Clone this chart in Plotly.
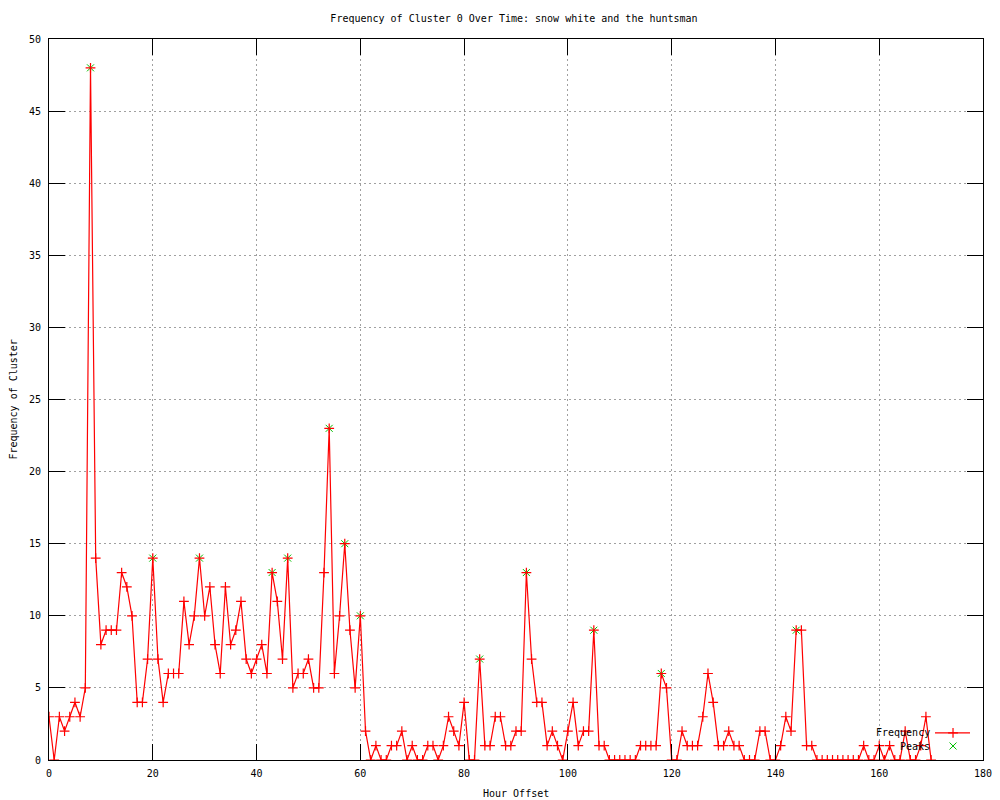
import plotly.graph_objects as go

# ---------------- data ----------------
hours = list(range(0, 171))
frequency = [
    3, 0, 3, 2, 3, 4, 3, 5, 48, 14,        # 0-9
    8, 9, 9, 9, 13, 12, 10, 4, 4, 7,       # 10-19
    14, 7, 4, 6, 6, 6, 11, 8, 10, 14,      # 20-29
    10, 12, 8, 6, 12, 8, 9, 11, 7, 6,      # 30-39
    7, 8, 6, 13, 11, 7, 14, 5, 6, 6,       # 40-49
    7, 5, 5, 13, 23, 6, 10, 15, 9, 5,      # 50-59
    10, 2, 0, 1, 0, 0, 1, 1, 2, 0,         # 60-69
    1, 0, 0, 1, 1, 0, 1, 3, 2, 1,          # 70-79
    4, 0, 0, 7, 1, 1, 3, 3, 1, 1,          # 80-89
    2, 2, 13, 7, 4, 4, 1, 2, 1, 0,         # 90-99
    2, 4, 1, 2, 2, 9, 1, 1, 0, 0,          # 100-109
    0, 0, 0, 0, 1, 1, 1, 1, 6, 5,          # 110-119
    0, 0, 2, 1, 1, 1, 3, 6, 4, 1,          # 120-129
    1, 2, 1, 1, 0, 0, 0, 2, 2, 0,          # 130-139
    0, 1, 3, 2, 9, 9, 1, 1, 0, 0,          # 140-149
    0, 0, 0, 0, 0, 0, 0, 1, 0, 0,          # 150-159
    1, 0, 1, 0, 0, 2, 0, 0, 1, 3,          # 160-169
    0,                                     # 170
]
peak_hours = [8, 20, 29, 43, 46, 54, 57, 60, 83, 92, 105, 118, 144]
peak_values = [48, 14, 14, 13, 14, 23, 15, 10, 7, 13, 9, 6, 9]

chart_title = "Frequency of Cluster 0 Over Time: snow white and the huntsman"
x_label = "Hour Offset"
y_label = "Frequency of Cluster"
series_names = ["Frequency", "Peaks"]
x_ticks = list(range(0, 181, 20))
y_ticks = list(range(0, 51, 5))

# ---------------- style ----------------
FONT = "DejaVu Sans Mono"
RED = "#ff0000"
GREEN = "#00c000"
GRID = "#a0a0a0"

# page body has an 8px margin, so the figure is sized to fit the window
FIG_W, FIG_H = 992, 792

fig = go.Figure()

# peaks (green x)
fig.add_trace(go.Scatter(
    x=peak_hours, y=peak_values, mode="markers", name=series_names[1],
    marker=dict(symbol="x-thin-open", size=7, color=GREEN, line=dict(color=GREEN, width=1)),
    showlegend=False,
))
# frequency line with + points
fig.add_trace(go.Scatter(
    x=hours, y=frequency, mode="lines+markers", name=series_names[0],
    line=dict(color=RED, width=1.2),
    marker=dict(symbol="cross-thin-open", size=7, color=RED, line=dict(color=RED, width=1.2)),
    showlegend=False,
))

# ---------- gnuplot-style key (text, then sample) on overlay axes ----------
key_y = [0.0375, 0.0194]
fig.add_trace(go.Scatter(
    x=[0.9486, 0.9861], y=[key_y[0], key_y[0]], mode="lines",
    line=dict(color=RED, width=1.2), xaxis="x2", yaxis="y2",
    showlegend=False, hoverinfo="skip",
))
fig.add_trace(go.Scatter(
    x=[0.9679], y=[key_y[0]], mode="markers",
    marker=dict(symbol="cross-thin-open", size=7, color=RED, line=dict(color=RED, width=1.2)),
    xaxis="x2", yaxis="y2", showlegend=False, hoverinfo="skip",
))
fig.add_trace(go.Scatter(
    x=[0.9679], y=[key_y[1]], mode="markers",
    marker=dict(symbol="x-thin-open", size=7, color=GREEN, line=dict(color=GREEN, width=1)),
    xaxis="x2", yaxis="y2", showlegend=False, hoverinfo="skip",
))

annotations = []
for name, ky in zip(series_names, key_y):
    annotations.append(dict(
        text=name, x=0.9455, y=ky, xref="paper", yref="paper",
        xanchor="right", yanchor="middle", showarrow=False,
        font=dict(family=FONT, size=10, color="black"),
    ))
annotations.append(dict(
    text=x_label, x=0.5, y=-0.0458, xref="paper", yref="paper",
    xanchor="center", yanchor="middle", showarrow=False,
    font=dict(family=FONT, size=10, color="black"),
))
annotations.append(dict(
    text=y_label, x=-0.0385, y=0.5, xref="paper", yref="paper",
    xanchor="center", yanchor="middle", showarrow=False, textangle=-90,
    font=dict(family=FONT, size=10, color="black"),
))

axis_common = dict(
    showline=True, linecolor="black", linewidth=1, mirror="ticks",
    ticks="inside", ticklen=16, tickcolor="black", tickwidth=1,
    showgrid=True, gridcolor=GRID, gridwidth=1, griddash="2px,3px",
    zeroline=False, automargin=False,
    tickfont=dict(family=FONT, size=10, color="black"),
)

fig.update_layout(
    width=FIG_W, height=FIG_H,
    margin=dict(l=41, r=17, t=31, b=40, autoexpand=False),
    paper_bgcolor="white", plot_bgcolor="white",
    title=dict(text=chart_title, x=506 / FIG_W, xanchor="center", y=1 - 10 / FIG_H,
               yanchor="middle", yref="container",
               font=dict(family=FONT, size=10, color="black")),
    xaxis=dict(range=[0, 180], tickvals=x_ticks, ticklabelstandoff=4, **axis_common),
    yaxis=dict(range=[0, 50], tickvals=y_ticks, ticklabelstandoff=5, **axis_common),
    xaxis2=dict(range=[0, 1], overlaying="x", visible=False, fixedrange=True),
    yaxis2=dict(range=[0, 1], overlaying="y", visible=False, fixedrange=True),
    annotations=annotations,
    showlegend=False,
)

fig.write_html("out.html")
